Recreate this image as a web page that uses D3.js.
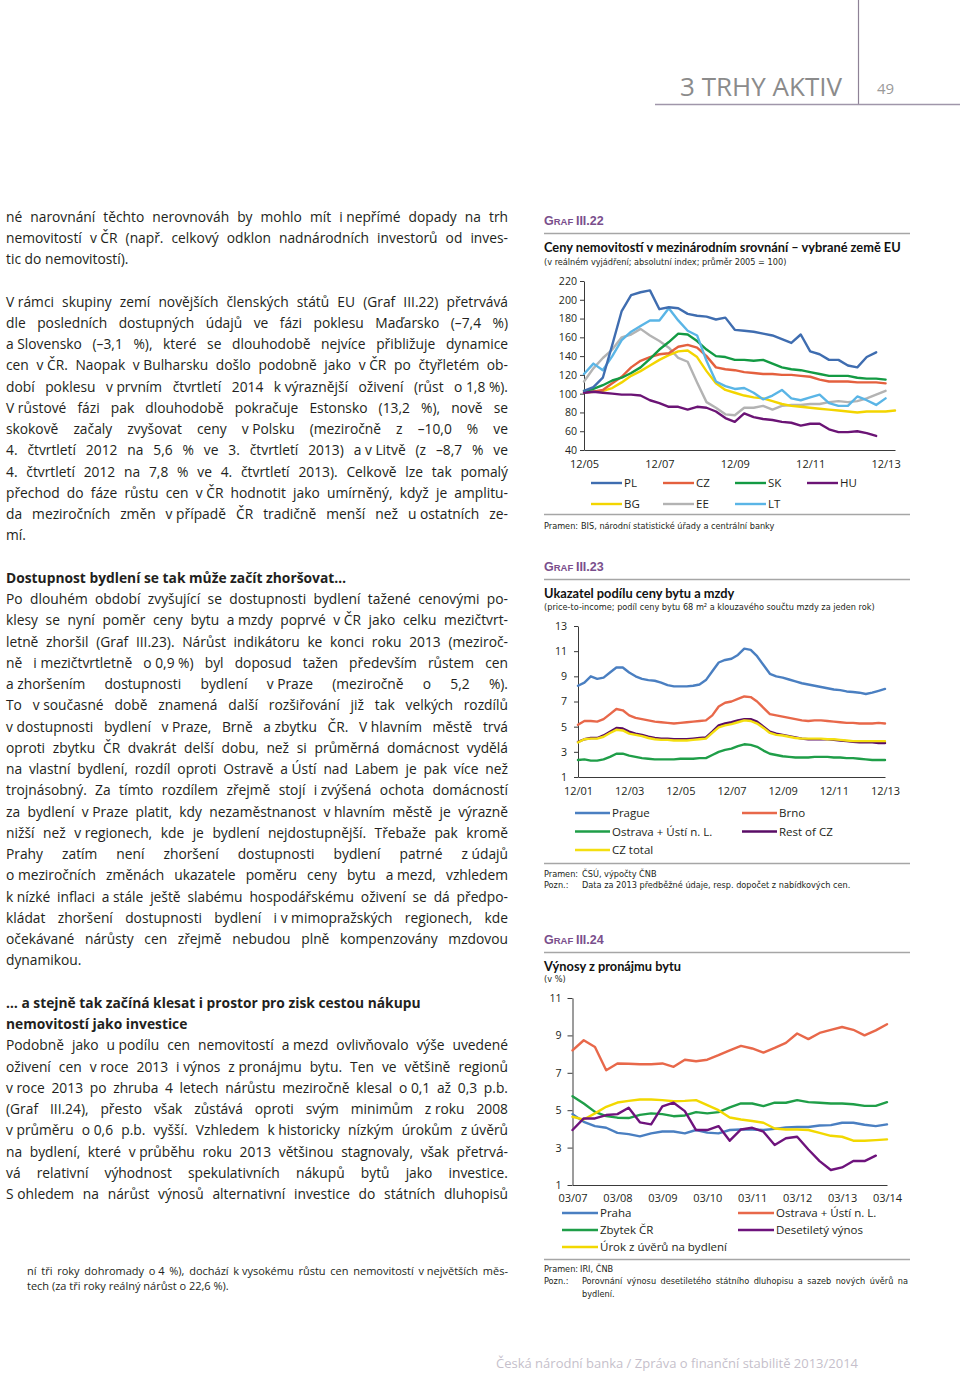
<!DOCTYPE html>
<html lang="cs"><head><meta charset="utf-8">
<script src="https://cdn.jsdelivr.net/npm/d3@7/dist/d3.min.js"></script>
<style>
html,body{margin:0;padding:0;background:#fff;}
svg{display:block;}
.body{font-family:"Open Sans",sans-serif;font-size:13.8px;fill:#231f20;}
.bodyb{font-family:"Open Sans",sans-serif;font-size:13.8px;font-weight:bold;fill:#231f20;}
.foot{font-family:"Open Sans",sans-serif;font-size:11px;fill:#231f20;}
.narrow{font-family:"Liberation Sans Narrow","Arial Narrow","DejaVu Sans Condensed",sans-serif;font-size:9.1px;fill:#231f20;}
.graf{font-family:"Liberation Sans Narrow","Arial Narrow",sans-serif;font-weight:bold;fill:#7a4f8c;}
.ctitle{font-family:Lato,"Open Sans",sans-serif;font-weight:bold;font-size:12.8px;fill:#111;}
.ax text{font-family:"Open Sans",sans-serif;font-size:11px;fill:#231f20;}
.ay text{font-size:10.6px;}
.ax path,.ax line{stroke:#3a3a3a;stroke-width:1;}
.leg{font-family:"Open Sans",sans-serif;font-size:11.5px;fill:#231f20;}
.hdr{font-family:"Open Sans",sans-serif;font-size:26px;fill:#8b8b8b;}
.pg{font-family:"Open Sans",sans-serif;font-size:15px;fill:#9a9a9a;}
.ftr{font-family:"Open Sans",sans-serif;font-size:13px;fill:#c6bfcb;}
</style></head><body>
<svg id="page" width="960" height="1375" viewBox="0 0 960 1375"></svg>
<script>
// ================= DATA =================
// Graf III.22 – real house prices (index, avg 2005 = 100), quarterly from 12/05
const c1Names = ["PL","CZ","SK","HU","BG","EE","LT"];
const c1Colors = ["#3f6db0","#e4603e","#139a43","#6b1475","#f3d500","#b3b3b3","#5ab5e6"];
const c1XTicks = ["12/05","12/07","12/09","12/11","12/13"];
const c1YTicks = [40,60,80,100,120,140,160,180,200,220];
const c1PL = [103,107,117,152,188,205,208,210,190,192,191,185,183,182,179,181,168,167,166,164,162,158,154,163,145,142,136,136,130,128,139,144];
const c1CZ = [101,102,104,111,118,128,135,139,142,143,150,152,149,140,128,126,125,123,122,121,121,120,120,119,118,115,113,113,113,112,112,112,111];
const c1SK = [103,105,109,114,117,122,128,137,147,155,164,163,156,147,140,139,136,136,135,136,132,128,126,125,123,121,119,119,119,117,116,116,115];
const c1HU = [101,102,101,100,99,99,98,93,90,86,86,83,86,85,81,74,70,79,75,73,72,70,69,66,68,68,62,59,59,60,58,55];
const c1BG = [102,102,103,106,112,119,124,130,136,141,145,146,139,124,111,104,101,98,96,95,92,89,87,86,85,84,83,82,81,80,81,81,81,82];
const c1EE = [113,127,138,147,160,163,169,162,156,149,138,134,112,91,85,78,77,85,85,87,83,87,88,88,89,89,91,92,91,92,95,99,103];
const c1LT = [121,132,125,140,157,166,172,178,178,191,178,167,162,135,113,108,105,106,101,94,98,104,95,93,96,99,90,87,87,97,93,88,95];

// Graf III.23 – price-to-income, quarterly from 12/01
const c2Names = ["Prague","Brno","Ostrava + Ústí n. L.","Rest of CZ","CZ total"];
const c2Colors = ["#4a7fc1","#e8684a","#1f9e48","#5a0c66","#f4df10"];
const c2XTicks = ["12/01","12/03","12/05","12/07","12/09","12/11","12/13"];
const c2YTicks = [1,3,5,7,9,11,13];
const c2Prague = [8.25,8.5,9.0,8.8,8.9,9.3,9.7,9.7,9.3,9.0,8.8,8.7,8.65,8.5,8.3,8.2,8.2,8.2,8.25,8.35,8.7,9.4,10.1,10.3,10.4,10.7,11.2,11.1,10.6,9.9,9.2,9.0,8.9,8.75,8.6,8.45,8.35,8.25,8.15,8.05,7.95,7.9,7.8,7.75,7.7,7.6,7.7,7.85,8.0];
const c2Brno = [5.15,5.45,5.45,5.4,5.6,6.0,6.4,6.3,5.9,5.7,5.6,5.5,5.4,5.35,5.3,5.25,5.3,5.35,5.4,5.45,5.5,5.9,6.6,6.9,7.0,7.2,7.4,7.35,7.0,6.5,6.0,5.9,5.8,5.7,5.6,5.5,5.45,5.5,5.5,5.45,5.4,5.35,5.3,5.3,5.25,5.25,5.25,5.3,5.25];
const c2Ostrava = [2.35,2.4,2.3,2.3,2.4,2.6,2.85,2.85,2.7,2.6,2.5,2.45,2.4,2.4,2.4,2.4,2.45,2.45,2.45,2.5,2.5,2.75,3.0,3.15,3.25,3.45,3.6,3.55,3.4,3.1,2.85,2.75,2.65,2.6,2.55,2.55,2.55,2.6,2.6,2.6,2.55,2.55,2.5,2.5,2.45,2.4,2.35,2.35,2.35];
const c2Rest = [3.8,4.0,4.1,4.1,4.3,4.6,4.9,4.85,4.6,4.45,4.35,4.2,4.1,4.05,4.05,4.0,4.0,4.0,4.05,4.1,4.15,4.6,5.1,5.25,5.35,5.5,5.6,5.6,5.4,5.0,4.6,4.45,4.35,4.25,4.15,4.05,4.0,4.0,4.0,4.0,3.95,3.9,3.85,3.8,3.75,3.75,3.75,3.7,3.7];
const c2Total = [3.75,4.0,4.05,4.05,4.2,4.5,4.75,4.7,4.45,4.35,4.25,4.1,4.0,3.95,3.95,3.9,3.9,3.9,3.95,4.0,4.05,4.5,4.95,5.1,5.2,5.35,5.5,5.45,5.25,4.9,4.5,4.35,4.3,4.2,4.1,4.05,4.05,4.05,4.05,4.0,4.0,3.95,3.9,3.85,3.85,3.85,3.85,3.85,3.85];

// Graf III.24 – rental yields (%), quarterly from 03/07
const c3Names = ["Praha","Ostrava + Ústí n. L.","Zbytek ČR","Desetiletý výnos","Úrok z úvěrů na bydlení"];
const c3Colors = ["#4a7fc1","#e8684a","#1f9e48","#6e137c","#f2d800"];
const c3XTicks = ["03/07","03/08","03/09","03/10","03/11","03/12","03/13","03/14"];
const c3YTicks = [1,3,5,7,9,11];
const c3Praha = [4.79,4.38,4.15,4.06,3.79,3.72,3.6,3.76,3.86,3.86,3.76,3.94,3.8,3.76,3.94,3.97,3.97,3.94,4.0,4.08,4.1,4.1,4.18,4.2,4.33,4.33,4.22,4.15,4.24];
const c3Ostrava = [8.2,8.74,8.38,7.14,7.5,7.48,7.46,7.46,7.5,7.32,7.7,7.62,7.7,7.94,8.2,8.44,8.3,8.08,8.33,8.6,9.1,8.8,9.13,9.3,9.45,9.3,9.0,9.27,9.6];
const c3Zbytek = [5.75,5.36,4.91,4.68,4.6,4.58,4.75,4.83,4.79,4.68,4.72,4.9,4.83,4.9,5.15,5.36,5.36,5.22,5.4,5.4,5.54,5.43,5.4,5.36,5.36,5.32,5.23,5.23,5.43];
const c3Bond = [3.94,4.56,4.56,4.74,4.79,5.13,4.35,4.24,5.2,5.4,4.95,3.94,3.94,4.15,3.37,3.97,4.06,3.85,3.14,3.5,3.58,2.9,2.28,1.8,1.94,2.28,2.28,2.57];
const c3Loan = [4.65,4.5,4.83,5.18,5.41,5.5,5.57,5.57,5.54,5.48,5.5,5.54,5.27,5.0,4.61,4.5,4.42,4.33,4.02,3.97,3.97,3.94,3.79,3.63,3.58,3.37,3.37,3.4,3.44];

// quarter categories
function quarters(start, n){
  let [m,y] = start.split('/').map(Number); const out=[];
  for(let i=0;i<n;i++){ out.push(String(m).padStart(2,'0')+'/'+String(y%100).padStart(2,'0')); m+=3; if(m>12){m-=12;y++;} }
  return out;
}
const c1Cats = quarters("12/05", 34);
const c2Cats = quarters("12/01", 49);
const c3Cats = quarters("03/07", 29);

// ================= TEXT =================
// [text, kind]  kind: j = justified, l = left, b = bold left, "" = blank
const bodyLines = [
 ["né narovnání těchto nerovnováh by mohlo mít i~nepřímé dopady na trh","j"],
 ["nemovitostí v~ČR (např. celkový odklon nadnárodních investorů od inves-","j"],
 ["tic do nemovitostí).","l"],
 ["",""],
 ["V~rámci skupiny zemí novějších členských států EU (Graf III.22) přetrvává","j"],
 ["dle posledních dostupných údajů ve fázi poklesu Maďarsko (–7,4 %)","j"],
 ["a~Slovensko (–3,1 %), které se dlouhodobě nejvíce přibližuje dynamice","j"],
 ["cen v~ČR. Naopak v~Bulharsku došlo podobně jako v~ČR po čtyřletém ob-","j"],
 ["dobí poklesu v~prvním čtvrtletí 2014 k~výraznější oživení (růst o~1,8~%).","j"],
 ["V~růstové fázi pak dlouhodobě pokračuje Estonsko (13,2 %), nově se","j"],
 ["skokově začaly zvyšovat ceny v~Polsku (meziročně z –10,0 % ve","j"],
 ["4. čtvrtletí 2012 na 5,6 % ve 3. čtvrtletí 2013) a~v~Litvě (z –8,7 % ve","j"],
 ["4. čtvrtletí 2012 na 7,8 % ve 4. čtvrtletí 2013). Celkově lze tak pomalý","j"],
 ["přechod do fáze růstu cen v~ČR hodnotit jako umírněný, když je amplitu-","j"],
 ["da meziročních změn v~případě ČR tradičně menší než u~ostatních ze-","j"],
 ["mí.","l"],
 ["",""],
 ["Dostupnost bydlení se tak může začít zhoršovat…","b"],
 ["Po dlouhém období zvyšující se dostupnosti bydlení tažené cenovými po-","j"],
 ["klesy se nyní poměr ceny bytu a~mzdy poprvé v~ČR jako celku mezičtvrt-","j"],
 ["letně zhoršil (Graf III.23). Nárůst indikátoru ke konci roku 2013 (meziroč-","j"],
 ["ně i~mezičtvrtletně o~0,9~%) byl doposud tažen především růstem cen","j"],
 ["a~zhoršením dostupnosti bydlení v~Praze (meziročně o 5,2 %).","j"],
 ["To v~současné době znamená další rozšiřování již tak velkých rozdílů","j"],
 ["v~dostupnosti bydlení v~Praze, Brně a~zbytku ČR. V~hlavním městě trvá","j"],
 ["oproti zbytku ČR dvakrát delší dobu, než si průměrná domácnost vydělá","j"],
 ["na vlastní bydlení, rozdíl oproti Ostravě a~Ústí nad Labem je pak více než","j"],
 ["trojnásobný. Za tímto rozdílem zřejmě stojí i~zvýšená ochota domácností","j"],
 ["za bydlení v~Praze platit, kdy nezaměstnanost v~hlavním městě je výrazně","j"],
 ["nižší než v~regionech, kde je bydlení nejdostupnější. Třebaže pak kromě","j"],
 ["Prahy zatím není zhoršení dostupnosti bydlení patrné z~údajů","j"],
 ["o~meziročních změnách ukazatele poměru ceny bytu a~mezd, vzhledem","j"],
 ["k~nízké inflaci a~stále ještě slabému hospodářskému oživení se dá předpo-","j"],
 ["kládat zhoršení dostupnosti bydlení i~v~mimopražských regionech, kde","j"],
 ["očekávané nárůsty cen zřejmě nebudou plně kompenzovány mzdovou","j"],
 ["dynamikou.","l"],
 ["",""],
 ["… a stejně tak začíná klesat i prostor pro zisk cestou nákupu","b"],
 ["nemovitostí jako investice","b"],
 ["Podobně jako u~podílu cen nemovitostí a~mezd ovlivňovalo výše uvedené","j"],
 ["oživení cen v~roce 2013 i~výnos z~pronájmu bytu. Ten ve většině regionů","j"],
 ["v~roce 2013 po zhruba 4 letech nárůstu meziročně klesal o~0,1 až 0,3 p.b.","j"],
 ["(Graf III.24), přesto však zůstává oproti svým minimům z~roku 2008","j"],
 ["v~průměru o~0,6 p.b. vyšší. Vzhledem k~historicky nízkým úrokům z~úvěrů","j"],
 ["na bydlení, které v~průběhu roku 2013 většinou stagnovaly, však přetrvá-","j"],
 ["vá relativní výhodnost spekulativních nákupů bytů jako investice.","j"],
 ["S~ohledem na nárůst výnosů alternativní investice do státních dluhopisů","j"]
];
const footLines = [
 ["ní tři roky dohromady o~4 %), dochází k~vysokému růstu cen nemovitostí v~největších měs-","j"],
 ["tech (za tři roky reálný nárůst o~22,6 %).","l"]
];

// ================= DRAWING =================
const svg = d3.select('#page');

function place(g, str, x0, x1, y, cls, justify){
  const s = str.replace(/~/g,'\u00a0');
  const t = g.append('text').attr('class',cls).attr('x',x0).attr('y',y);
  if(!justify){ t.text(s); return t; }
  const words = s.split(' ');
  const spans = words.map(w=>t.append('tspan').text(w));
  const ws = spans.map(sp=>sp.node().getComputedTextLength());
  const gap = (x1-x0-d3.sum(ws))/Math.max(1,words.length-1);
  let x=x0;
  spans.forEach((sp,i)=>{ sp.attr('x',x); x+=ws[i]+gap; });
  return t;
}

// header
svg.append('line').attr('x1',858.5).attr('x2',858.5).attr('y1',0).attr('y2',104)
  .attr('stroke','#8e8296').attr('stroke-width',1.2);
svg.append('line').attr('x1',655).attr('x2',960).attr('y1',104.5).attr('y2',104.5)
  .attr('stroke','#a096aa').attr('stroke-width',1.5);
svg.append('text').attr('class','hdr').attr('x',842).attr('y',96).attr('text-anchor','end').text('3 TRHY AKTIV');
svg.append('text').attr('class','pg').attr('x',877).attr('y',94).text('49');

// body column
const gBody = svg.append('g');
bodyLines.forEach((d,i)=>{
  if(!d[1]) return;
  const y = 217 + i*21.25 + 4.6;
  place(gBody, d[0], 6, 508, y, d[1]==='b' ? 'bodyb' : 'body', d[1]==='j');
});
footLines.forEach((d,i)=>{
  place(gBody, d[0], 27, 508, 1275 + i*15, 'foot', d[1]==='j');
});

// footer
svg.append('text').attr('class','ftr').attr('x',496).attr('y',1368)
  .attr('textLength',362).attr('lengthAdjust','spacing')
  .text('Česká národní banka / Zpráva o finanční stabilitě 2013/2014');

// chart header
function grafHead(num, yLab, yRule, title, yTitle, sub, ySub){
  const t = svg.append('text').attr('class','graf').attr('x',544).attr('y',yLab);
  t.append('tspan').attr('font-size',12.5).text('G');
  t.append('tspan').attr('font-size',9.5).text('RAF ');
  t.append('tspan').attr('font-size',12.5).text(num);
  svg.append('line').attr('x1',544).attr('x2',910).attr('y1',yRule).attr('y2',yRule)
    .attr('stroke','#a6a6a6').attr('stroke-width',1.3);
  svg.append('text').attr('class','ctitle').attr('x',544).attr('y',yTitle).text(title);
  svg.append('text').attr('class','narrow').attr('x',544).attr('y',ySub).text(sub);
}
function rule(y){
  svg.append('line').attr('x1',544).attr('x2',910).attr('y1',y).attr('y2',y)
    .attr('stroke','#a6a6a6').attr('stroke-width',1.3);
}

function chart(cfg){
  const g = svg.append('g');
  const x = d3.scaleLinear().domain([0, cfg.cats.length-1]).range(cfg.xr);
  const y = d3.scaleLinear().domain(cfg.yd).range(cfg.yr);
  g.append('g').attr('class','ax').attr('transform',`translate(0,${cfg.yr[0]})`)
    .call(d3.axisBottom(x).tickValues(cfg.xTicks.map(l=>cfg.cats.indexOf(l)))
      .tickFormat(i=>cfg.cats[i]).tickSize(0).tickPadding(cfg.xp).tickSizeOuter(0));
  g.append('g').attr('class','ax ay').attr('transform',`translate(${cfg.xr[0]},0)`)
    .call(d3.axisLeft(y).tickValues(cfg.yTicks).tickSize(cfg.ts).tickPadding(cfg.tp).tickSizeOuter(0));
  const line = d3.line().x((d,i)=>x(i)).y(d=>y(d));
  cfg.order.forEach(k=>{
    g.append('path').attr('d', line(cfg.series[k])).attr('fill','none')
      .attr('stroke', cfg.colors[k]).attr('stroke-width',2.4)
      .attr('stroke-linejoin','round').attr('stroke-linecap','round');
  });
  // legend
  cfg.names.forEach((n,k)=>{
    const col = k % cfg.legX.length, row = Math.floor(k / cfg.legX.length);
    const lx = cfg.legX[col], ly = cfg.legY[row];
    g.append('line').attr('x1',lx).attr('x2',lx+cfg.legL).attr('y1',ly).attr('y2',ly)
      .attr('stroke',cfg.colors[k]).attr('stroke-width',2.4);
    g.append('text').attr('class','leg').attr('x',lx+cfg.legL+2).attr('y',ly+4).text(n);
  });
}

// ---- Graf III.22
grafHead('III.22', 225, 233.5, 'Ceny nemovitostí v mezinárodním srovnání – vybrané země EU', 251.5,
  '(v reálném vyjádření; absolutní index; průměr 2005 = 100)', 264.5);
chart({cats:c1Cats, xr:[584,895], yd:[40,220], yr:[450,281], xTicks:c1XTicks, yTicks:c1YTicks,
  xp:10, ts:4, tp:3,
  series:[c1PL,c1CZ,c1SK,c1HU,c1BG,c1EE,c1LT], colors:c1Colors, names:c1Names,
  order:[5,4,1,2,3,6,0], legX:[591,663,735,807], legY:[483,504], legL:31});
rule(514.5);
svg.append('text').attr('class','narrow').attr('x',544).attr('y',528.5).text('Pramen:');
svg.append('text').attr('class','narrow').attr('x',581).attr('y',528.5).text('BIS, národní statistické úřady a centrální banky');

// ---- Graf III.23
grafHead('III.23', 571, 579.5, 'Ukazatel podílu ceny bytu a mzdy', 597.5,
  '(price-to-income; podíl ceny bytu 68 m² a klouzavého součtu mzdy za jeden rok)', 610);
chart({cats:c2Cats, xr:[578,885], yd:[1,13], yr:[777,626], xTicks:c2XTicks, yTicks:c2YTicks,
  xp:10, ts:4, tp:7,
  series:[c2Prague,c2Brno,c2Ostrava,c2Rest,c2Total], colors:c2Colors, names:c2Names,
  order:[0,1,2,3,4], legX:[575,742], legY:[813,831.5,850], legL:35});
rule(863.5);
svg.append('text').attr('class','narrow').attr('x',544).attr('y',876.5).text('Pramen:');
svg.append('text').attr('class','narrow').attr('x',582).attr('y',876.5).text('ČSÚ, výpočty ČNB');
svg.append('text').attr('class','narrow').attr('x',544).attr('y',888).text('Pozn.:');
svg.append('text').attr('class','narrow').attr('x',582).attr('y',888).text('Data za 2013 předběžné údaje, resp. dopočet z nabídkových cen.');

// ---- Graf III.24
grafHead('III.24', 944, 952.5, 'Výnosy z pronájmu bytu', 970.5, '(v %)', 981.5);
chart({cats:c3Cats, xr:[572.5,887], yd:[1,11], yr:[1185,998], xTicks:c3XTicks, yTicks:c3YTicks,
  xp:9.5, ts:5, tp:6,
  series:[c3Praha,c3Ostrava,c3Zbytek,c3Bond,c3Loan], colors:c3Colors, names:c3Names,
  order:[1,2,0,4,3], legX:[562,738], legY:[1213,1230,1247], legL:36});
rule(1259.5);
svg.append('text').attr('class','narrow').attr('x',544).attr('y',1272).text('Pramen:');
svg.append('text').attr('class','narrow').attr('x',580).attr('y',1272).text('IRI, ČNB');
svg.append('text').attr('class','narrow').attr('x',544).attr('y',1284).text('Pozn.:');
place(svg, 'Porovnání výnosu desetiletého státního dluhopisu a sazeb nových úvěrů na', 582, 908, 1284, 'narrow', true);
svg.append('text').attr('class','narrow').attr('x',582).attr('y',1297).text('bydlení.');
</script></body></html>
